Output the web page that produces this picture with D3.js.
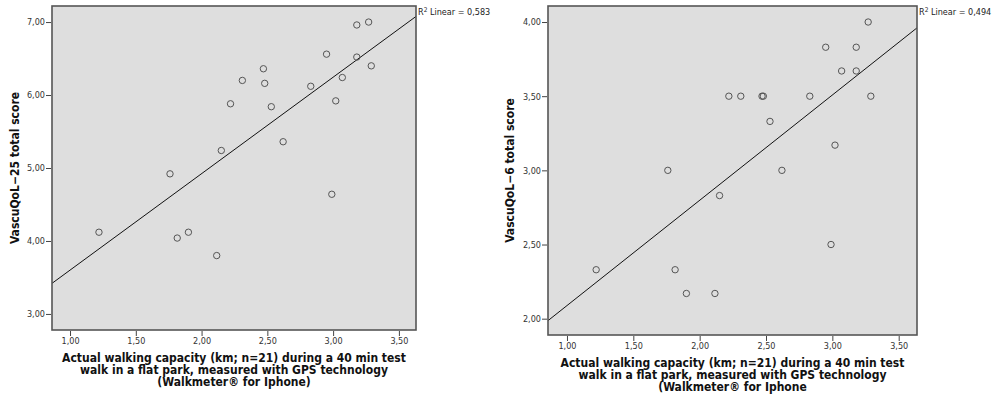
<!DOCTYPE html>
<html>
<head>
<meta charset="utf-8">
<script src="https://cdn.jsdelivr.net/npm/d3@7"></script>
<style>
  body { margin: 0; background: #fff; }
  svg { display: block; font-family: "DejaVu Sans Condensed", "DejaVu Sans", sans-serif; font-stretch: condensed; }
  .tick text { fill: #333; font-size: 9px; }
  .title { font-weight: bold; font-size: 12px; fill: #111; }
</style>
</head>
<body>
<svg width="1003" height="396"></svg>
<script>
// walking distance (km), same patients in both panels
const walkKm = [1.22, 1.815, 1.90, 2.115, 2.15, 1.76, 2.22, 2.31, 2.47, 2.48, 2.53,
                2.62, 2.83, 2.95, 2.99, 3.02, 3.07, 3.18, 3.18, 3.27, 3.29];
const qol25 = [4.12, 4.04, 4.12, 3.80, 5.24, 4.92, 5.88, 6.20, 6.36, 6.16, 5.84,
               5.36, 6.12, 6.56, 4.64, 5.92, 6.24, 6.96, 6.52, 7.00, 6.40];
const qol6 = [2.33, 2.33, 2.17, 2.17, 2.83, 3.00, 3.50, 3.50, 3.50, 3.50, 3.33,
              3.00, 3.50, 3.83, 2.50, 3.17, 3.67, 3.83, 3.67, 4.00, 3.50];

const xTicks = [1.0, 1.5, 2.0, 2.5, 3.0, 3.5];
const yTicks25 = [3, 4, 5, 6, 7];
const yTicks6 = [2.0, 2.5, 3.0, 3.5, 4.0];
const r2Labels = ["0,583", "0,494"];
const xTitle = ["Actual walking capacity (km; n=21) during a 40 min test",
                "walk in a flat park, measured with GPS technology"];
const xTitleLast = ["(Walkmeter® for Iphone)", "(Walkmeter® for Iphone"];

const svg = d3.select('svg');
const fmt = v => d3.format('.2f')(v).replace('.', ',');

const panels = [
  { left: 52, right: 416, top: 6, bottom: 330, xdom: [0.863, 3.63], ydom: [2.78, 7.22],
    ys: qol25, yTicks: yTicks25, yTitle: 'VascuQoL\u221225 total score', titleX: 15, r2: r2Labels[0], last: xTitleLast[0] },
  { left: 548, right: 917, top: 6, bottom: 335, xdom: [0.857, 3.638], ydom: [1.89, 4.108],
    ys: qol6, yTicks: yTicks6, yTitle: 'VascuQoL\u22126 total score', titleX: 510, r2: r2Labels[1], last: xTitleLast[1] }
];

panels.forEach(function(p, i) {
  const x = d3.scaleLinear().domain(p.xdom).range([p.left, p.right]);
  const y = d3.scaleLinear().domain(p.ydom).range([p.bottom, p.top]);
  const g = svg.append('g');

  g.append('rect')
    .attr('x', p.left).attr('y', p.top)
    .attr('width', p.right - p.left).attr('height', p.bottom - p.top)
    .attr('fill', '#dedede');

  // least squares fit
  const mx = d3.mean(walkKm), my = d3.mean(p.ys);
  const slope = d3.sum(walkKm, (v, k) => (v - mx) * (p.ys[k] - my)) /
                d3.sum(walkKm, v => (v - mx) * (v - mx));
  const fit = v => my + slope * (v - mx);

  g.append('clipPath').attr('id', 'clip' + i)
    .append('rect')
    .attr('x', p.left).attr('y', p.top)
    .attr('width', p.right - p.left).attr('height', p.bottom - p.top);

  g.append('line')
    .attr('clip-path', `url(#clip${i})`)
    .attr('x1', x(p.xdom[0])).attr('y1', y(fit(p.xdom[0])))
    .attr('x2', x(p.xdom[1])).attr('y2', y(fit(p.xdom[1])))
    .attr('stroke', '#111').attr('stroke-width', 1);

  g.selectAll('circle')
    .data(walkKm)
    .enter().append('circle')
    .attr('cx', d => x(d))
    .attr('cy', (d, k) => y(p.ys[k]))
    .attr('r', 3.2)
    .attr('fill', 'none')
    .attr('stroke', '#555')
    .attr('stroke-width', 1);

  g.append('rect')
    .attr('x', p.left).attr('y', p.top)
    .attr('width', p.right - p.left).attr('height', p.bottom - p.top)
    .attr('fill', 'none').attr('stroke', '#555').attr('stroke-width', 1.6);

  const xa = g.append('g')
    .attr('transform', `translate(0, ${p.bottom + 1})`)
    .call(d3.axisBottom(x).tickValues(xTicks).tickFormat(fmt).tickSize(5).tickPadding(2));
  const ya = g.append('g')
    .attr('transform', `translate(${p.left - 1}, 0)`)
    .call(d3.axisLeft(y).tickValues(p.yTicks).tickFormat(fmt).tickSize(5).tickPadding(1));
  [xa, ya].forEach(a => {
    a.select('.domain').remove();
    a.selectAll('.tick line').attr('stroke', '#444');
    a.attr('font-family', null).attr('font-size', null);
  });

  g.append('text')
    .attr('x', p.right + 2).attr('y', p.top + 9)
    .attr('font-size', 9).attr('fill', '#222')
    .html(`R<tspan dy="-3" font-size="6.5">2</tspan><tspan dy="3"> Linear = ${p.r2}</tspan>`);

  const cx = (p.left + p.right) / 2;
  const lines = xTitle.concat([p.last]);
  g.append('text')
    .attr('class', 'title')
    .attr('text-anchor', 'middle')
    .selectAll('tspan')
    .data(lines)
    .enter().append('tspan')
    .attr('x', cx)
    .attr('y', (d, k) => p.bottom + 32 + k * 12)
    .text(d => d);

  g.append('text')
    .attr('class', 'title')
    .attr('text-anchor', 'middle')
    .attr('transform', `translate(${p.titleX + 4}, ${(p.top + p.bottom) / 2}) rotate(-90)`)
    .text(p.yTitle);
});
</script>
</body>
</html>
